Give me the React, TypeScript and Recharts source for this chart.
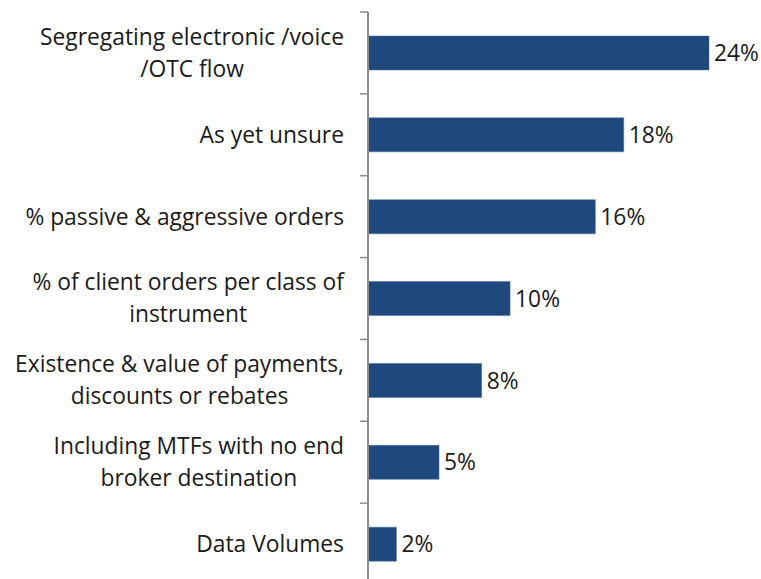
import { BarChart, Bar, XAxis, YAxis, LabelList } from 'recharts';

// categories (with the wrap points of the original labels) and their shares in %
const categories = [
  'Segregating electronic /voice\n/OTC flow',
  'As yet unsure',
  '% passive & aggressive orders',
  '% of client orders per class of\ninstrument',
  'Existence & value of payments,\ndiscounts or rebates',
  'Including MTFs with no end\nbroker destination',
  'Data Volumes',
];
const shares = [24, 18, 16, 10, 8, 5, 2];

const data = categories.map((name, i) => ({ name, value: shares[i] }));

const W = 761;
const H = 585;
const TOP = 12;
const AXIS_X = 368;
const LABEL_RIGHT = 344;
const FONT = '"Open Sans", sans-serif';
const FONT_SIZE = 22.8;
const LINE_H = 32;
const BAND = (H - TOP) / categories.length;

let ctx: CanvasRenderingContext2D | null = null;
function measure(s: string) {
  if (!ctx) {
    ctx = document.createElement('canvas').getContext('2d');
  }
  if (!ctx) return s.length * FONT_SIZE * 0.5;
  ctx.font = `${FONT_SIZE}px ${FONT}`;
  return ctx.measureText(s).width;
}

function CategoryTick(props: any) {
  const { y, payload, index } = props;
  const lines = String(payload.value).split('\n');
  const widest = Math.max(...lines.map(measure));
  const cx = LABEL_RIGHT - widest / 2;
  const y0 = y - ((lines.length - 1) * LINE_H) / 2;
  const top = y - BAND / 2;
  return (
    <g>
      <line x1={AXIS_X - 8} x2={AXIS_X} y1={top} y2={top} stroke="#8c8c8c" strokeWidth={1.5} />
      {index === categories.length - 1 && (
        <line x1={AXIS_X - 8} x2={AXIS_X} y1={top + BAND} y2={top + BAND} stroke="#8c8c8c" strokeWidth={1.5} />
      )}
      <text textAnchor="middle" fill="#1a1a1a" fontSize={FONT_SIZE} fontFamily={FONT}>
        {lines.map((l, i) => (
          <tspan key={i} x={cx} y={y0 + i * LINE_H} dy="0.35em">
            {l}
          </tspan>
        ))}
      </text>
    </g>
  );
}

export default function App() {
  return (
    <div style={{ position: 'absolute', left: 0, top: 0, width: W, height: 579, overflow: 'hidden', background: '#fff' }}>
      <BarChart
        width={W}
        height={H}
        data={data}
        layout="vertical"
        margin={{ top: TOP, right: W - AXIS_X - 341, bottom: 0, left: 0 }}
      >
        <XAxis type="number" hide domain={[0, 24]} />
        <YAxis
          type="category"
          dataKey="name"
          width={AXIS_X}
          interval={0}
          axisLine={{ stroke: '#8c8c8c', strokeWidth: 2 }}
          tickLine={false}
          tick={<CategoryTick />}
        />
        <Bar dataKey="value" fill="#1f497d" stroke="#4a6e9c" strokeWidth={0.5} barSize={34} isAnimationActive={false}>
          <LabelList
            dataKey="value"
            position="right"
            offset={5}
            formatter={(v: any) => `${v}%`}
            fill="#1a1a1a"
            fontSize={FONT_SIZE}
            fontFamily={FONT}
          />
        </Bar>
      </BarChart>
    </div>
  );
}
